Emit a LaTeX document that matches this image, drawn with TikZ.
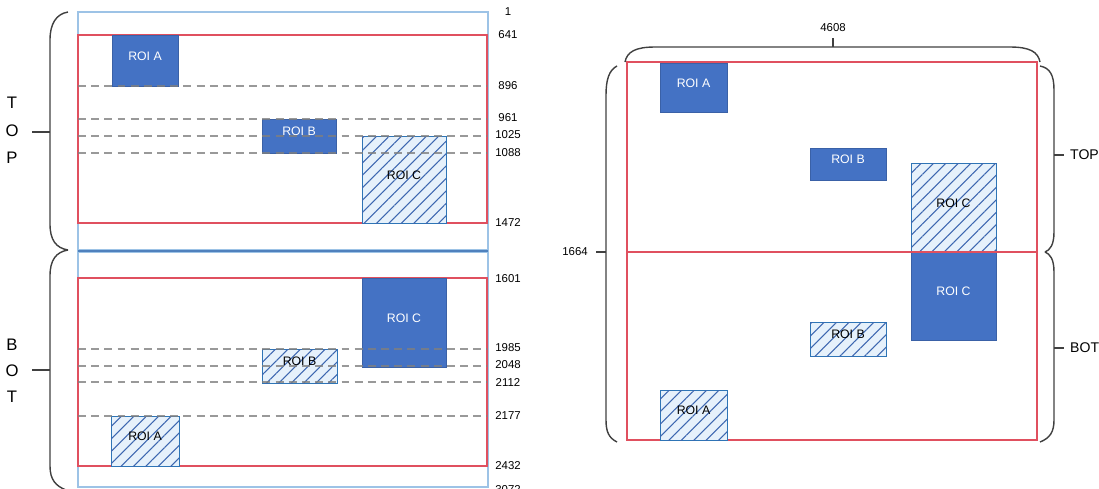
\documentclass[tikz,border=0pt]{standalone}
\usepackage{fontspec}
\setmainfont{Liberation Sans}
\usetikzlibrary{fit, patterns.meta}
\definecolor{roiblue}{HTML}{4472C4}
\definecolor{roiedge}{HTML}{2E75B6}
\definecolor{hatchbg}{HTML}{E6F1FB}
\definecolor{halfred}{HTML}{E0505F}
\definecolor{frameblue}{HTML}{9DC3E6}
\definecolor{seamblue}{HTML}{4F81BD}
\definecolor{guidegray}{HTML}{7F7F7F}
\tikzset{
  solidroi/.style={draw=roiblue!85!black, fill=roiblue, text=white, inner sep=0pt,
    font=\fontsize{7}{8}\selectfont},
  hatchroi/.style={draw=roiedge, fill=hatchbg, inner sep=0pt, font=\fontsize{7}{8}\selectfont,
    postaction={pattern={Lines[angle=45, distance=5pt, line width=0.6pt]}, pattern color=roiblue!90!black}},
  half/.style={draw=halfred, line width=1pt},
  frame/.style={draw=frameblue, line width=1pt},
  guide/.style={draw=guidegray, line width=0.9pt, dash pattern=on 4.5pt off 3pt, opacity=0.8},
  rowlbl/.style={font=\fontsize{6.5}{7}\selectfont},
  bracket/.style={draw=black!75, line width=0.8pt},
  sidelbl/.style={font=\fontsize{9.5}{10}\selectfont},
}
\begin{document}
\begin{tikzpicture}[x=0.02cm, y=-0.02cm]
  \useasboundingbox (0,0) rectangle (1099,488);

  % left panel: sensor halves
  \draw[frame] (78,12) rectangle (488,250);
  \draw[frame] (78,252) rectangle (488,487);
  \draw[seamblue, line width=1.6pt] (78,251) -- (488,251);
  \draw[half] (78,35) rectangle (487,223);
  \draw[half] (78,278) rectangle (487,466);

  \node[solidroi, fit={(112,35) (178,86)}] (tA) {ROI A};
  \node[solidroi, fit={(262,119) (336,153)}] (tB) {ROI B};
  \node[hatchroi, fit={(362,136) (446,223)}] (tC) {ROI C};
  \node[solidroi, fit={(362,278) (446,367)}] (bC) {ROI C};
  \node[hatchroi, fit={(262,349) (337,383)}] (bB) {ROI B};
  \node[hatchroi, fit={(111,416) (179,466)}] (bA) {ROI A};

  % row guides
  \foreach \y in {86,119,136,153,349,366,382,416}
    \draw[guide] (78,\y) -- (487,\y);

  % row numbers
  \foreach \y/\t [count=\i] in {12/1, 35/641, 86/896, 118/961, 135/1025, 153/1088, 223/1472,
      279/1601, 348/1985, 365/2048, 383/2112, 416/2177, 466/2432, 490/3072}
    \node[rowlbl] (r\i) at (508,\y) {\t};

  % left brackets
  \draw[bracket] (68,12) .. controls (56,14) and (50,24) .. (50,40) -- (50,224)
    .. controls (50,240) and (56,248) .. (68,250);
  \draw[bracket] (68,250) .. controls (56,252) and (50,260) .. (50,276) -- (50,466)
    .. controls (50,480) and (56,486) .. (66,490);
  \draw[bracket] (50,132) -- (32,132);
  \draw[bracket] (50,370) -- (32,370);
  \node[sidelbl] (lT) at (12,103) {T};
  \node[sidelbl] (lO) at (12,131) {O};
  \node[sidelbl] (lP) at (12,158) {P};
  \node[sidelbl] (lB) at (12,345) {B};
  \node[sidelbl] (lO2) at (12,371) {O};
  \node[sidelbl] (lT2) at (12,397) {T};

  % right panel: merged frame
  \draw[half] (627,62) rectangle (1037,440);
  \node[solidroi, fit={(660,63) (727,112)}] (mA) {ROI A};
  \node[solidroi, fit={(810,148) (886,180)}] (mB) {ROI B};
  \node[hatchroi, fit={(911,163) (996,252)}] (mC) {ROI C};
  \node[solidroi, fit={(911,252) (996,340)}] (nC) {ROI C};
  \node[hatchroi, fit={(810,322) (886,356)}] (nB) {ROI B};
  \node[hatchroi, fit={(660,390) (727,440)}] (nA) {ROI A};
  \draw[half] (627,252) -- (1037,252);

  % right brackets
  \draw[bracket] (625,62) .. controls (627,52) and (635,47) .. (655,47) -- (1010,47)
    .. controls (1030,47) and (1038,52) .. (1040,62);
  \draw[bracket] (833,47) -- (833,38);
  \node[rowlbl] (wd) at (833,28) {4608};
  \draw[bracket] (617,66) .. controls (609,70) and (606,80) .. (606,95) -- (606,420)
    .. controls (606,432) and (609,438) .. (617,442);
  \draw[bracket] (606,252) -- (596,252);
  \node[rowlbl] (ht) at (575,252) {1664};
  \draw[bracket] (1040,66) .. controls (1050,68) and (1054,75) .. (1054,90) -- (1054,232)
    .. controls (1054,245) and (1050,250) .. (1045,252);
  \draw[bracket] (1045,252) .. controls (1050,254) and (1054,259) .. (1054,272) -- (1054,420)
    .. controls (1054,432) and (1050,438) .. (1040,442);
  \draw[bracket] (1054,155) -- (1064,155);
  \draw[bracket] (1054,348) -- (1064,348);
  \node[rowlbl, anchor=west, font=\fontsize{8}{9}\selectfont] (rt) at (1064,155) {TOP};
  \node[rowlbl, anchor=west, font=\fontsize{8}{9}\selectfont] (rb) at (1064,348) {BOT};
\end{tikzpicture}
\end{document}
